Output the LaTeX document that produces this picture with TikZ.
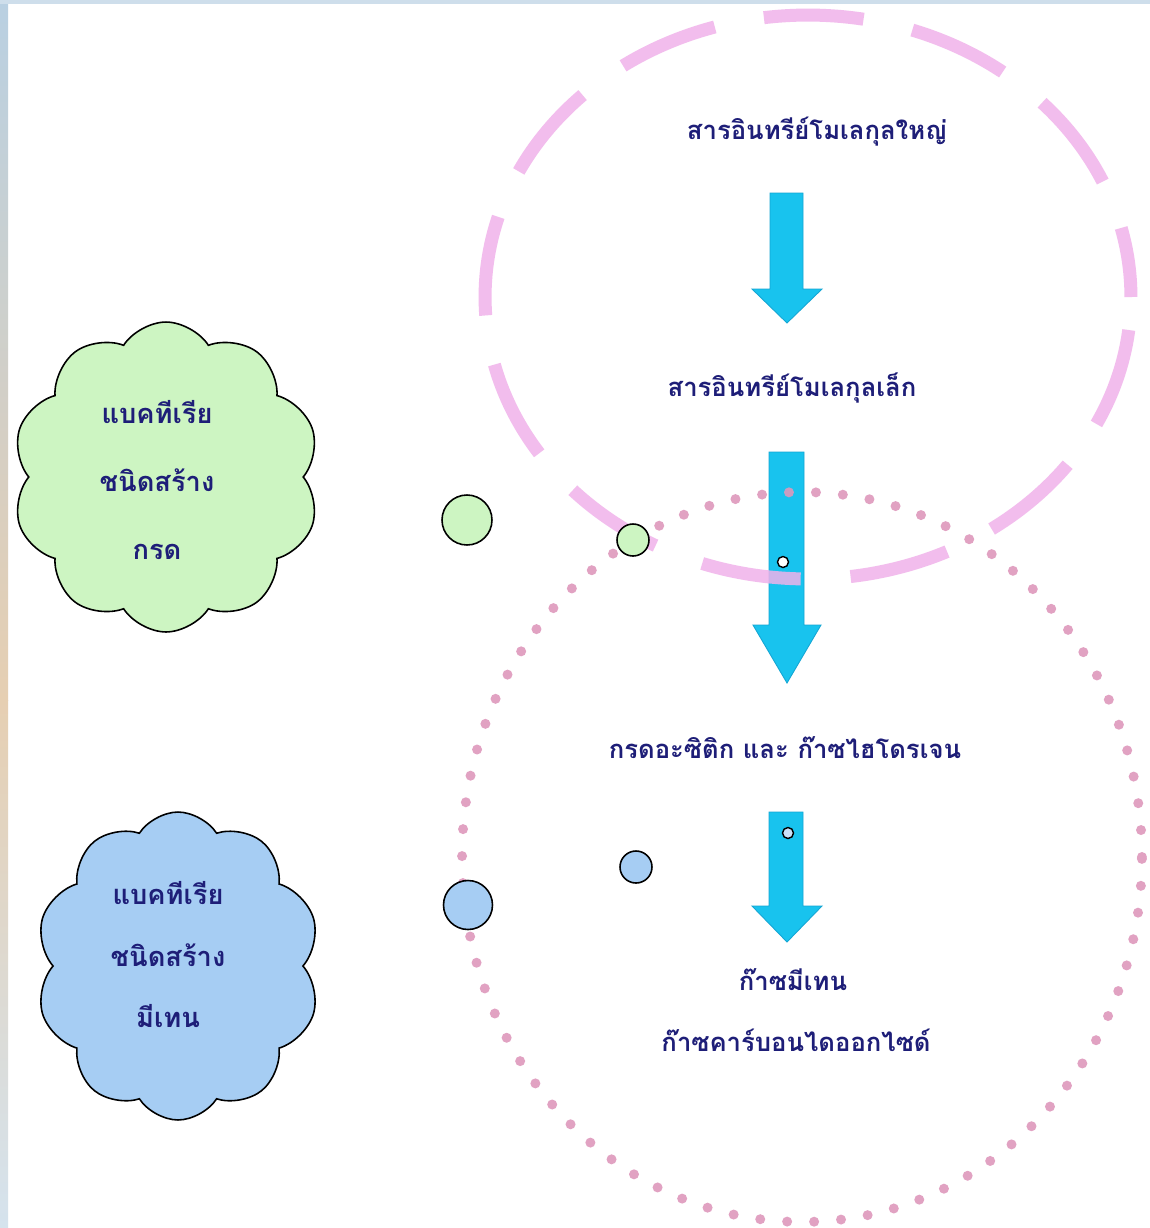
\documentclass[tikz,border=0pt]{standalone}
\usepackage{fontspec}
\newfontfamily\thaifont[Script=Thai]{Loma}
\usetikzlibrary{shapes.symbols}
\definecolor{navytext}{HTML}{1E1E78}
\definecolor{cloudgreen}{HTML}{CDF5C2}
\definecolor{cloudblue}{HTML}{A6CDF3}
\definecolor{arrowcyan}{HTML}{18C3EE}
\definecolor{arrowedge}{HTML}{14A6D4}
\definecolor{dashpink}{HTML}{F0B2EA}
\definecolor{dotpink}{HTML}{DE98BC}
\definecolor{edgeblue}{HTML}{B9D0E2}
\definecolor{edgetan}{HTML}{E6CFB2}
\begin{document}
\begin{tikzpicture}[x=0.02cm,y=-0.02cm,
  label/.style={font=\thaifont\bfseries\fontsize{14.6}{18}\selectfont, text=navytext, inner sep=1pt},
  cloudtext/.style={font=\thaifont\bfseries\fontsize{15.5}{27}\selectfont, text=navytext, align=center},
  puffy/.style={cloud, cloud puffs=10, cloud puff arc=115, aspect=1, draw=black, line width=0.9pt},
  blockarrow/.style={fill=arrowcyan, draw=arrowedge, line width=0.5pt},
  dashring/.style={draw=dashpink, line width=0.26cm, dash pattern=on 2cm off 1cm, dash phase=0.6cm, opacity=0.85},
  dotring/.style={draw=dotpink, line width=0.2cm, line cap=round, dash pattern=on 0pt off 0.54cm, opacity=0.9},
  bubble/.style={circle, draw=black, line width=0.9pt, inner sep=0pt},
  speck/.style={circle, draw=black, fill=white, line width=0.8pt, inner sep=0pt, minimum size=0.22cm}
]
\useasboundingbox (0,0) rectangle (1150,1228);
\fill[white] (0,0) rectangle (1150,1228);
% photo edge strips
\shade[top color=edgeblue, bottom color=edgetan] (0,0) rectangle (8,700);
\shade[top color=edgetan, bottom color=edgeblue!60] (0,700) rectangle (8,1228);
\fill[edgeblue!70] (0,0) rectangle (1150,4);

% block arrows
\filldraw[blockarrow] (770,193) -- (803,193) -- (803,289) -- (822,289) -- (787,323) -- (752,289) -- (770,289) -- cycle;
\filldraw[blockarrow] (769,452) -- (804,452) -- (804,625) -- (821,625) -- (787,683) -- (753,625) -- (769,625) -- cycle;
\filldraw[blockarrow] (769,812) -- (803,812) -- (803,906) -- (822,906) -- (787,942) -- (752,906) -- (769,906) -- cycle;

% rings
\draw[dotring] (802,857) ellipse [x radius=6.8cm, y radius=7.3cm];
\draw[dashring] (808,297) ellipse [x radius=6.46cm, y radius=5.64cm];

% specks on arrows
\node[speck] (s1) at (783,562) {};
\node[speck, fill=cloudblue!60] (s2) at (788,833) {};

% clouds
\node[puffy, fill=cloudgreen, minimum width=6.16cm, minimum height=6.2cm] (c1) at (166,477) {};
\node[cloudtext, font=\thaifont\bfseries\fontsize{15.5}{38.5}\selectfont] (c1t) at (157,480) {แบคทีเรีย\\ชนิดสร้าง\\กรด};
\node[puffy, fill=cloudblue, minimum width=5.7cm, minimum height=6.16cm] (c2) at (178,966) {};
\node[cloudtext, font=\thaifont\bfseries\fontsize{15.5}{35}\selectfont] (c2t) at (168,955) {แบคทีเรีย\\ชนิดสร้าง\\มีเทน};

% bubbles
\node[bubble, fill=cloudgreen, minimum size=1.0cm] (g1) at (467,520) {};
\node[bubble, fill=cloudgreen, minimum size=0.64cm] (g2) at (633,540) {};
\node[bubble, fill=cloudblue, minimum size=0.98cm] (b1) at (468,905) {};
\node[bubble, fill=cloudblue, minimum size=0.64cm] (b2) at (636,867) {};

% labels
\node[label] (t1) at (817,132) {สารอินทรีย์โมเลกุลใหญ่};
\node[label] (t2) at (792,388) {สารอินทรีย์โมเลกุลเล็ก};
\node[label] (t3) at (785,748) {กรดอะซิติก และ ก๊าซไฮโดรเจน};
\node[label] (t4) at (793,980) {ก๊าซมีเทน};
\node[label] (t5) at (796,1040) {ก๊าซคาร์บอนไดออกไซด์};
\end{tikzpicture}
\end{document}
